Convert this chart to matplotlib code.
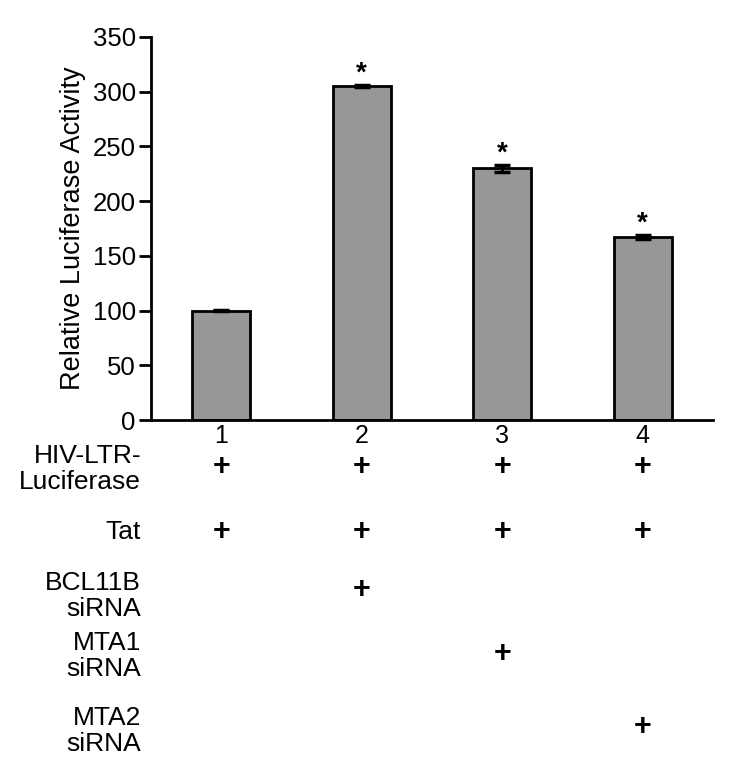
import matplotlib
matplotlib.use("Agg")
import matplotlib.pyplot as plt
import matplotlib.transforms as mtransforms

plt.rcParams['font.family'] = ['Liberation Sans', 'DejaVu Sans']

categories = ['1', '2', '3', '4']
values = [100, 305, 230, 167]
errors = [0.5, 1.0, 3.0, 2.0]
significant = [False, True, True, True]

row_labels = ['HIV-LTR-\nLuciferase', 'Tat', 'BCL11B\nsiRNA', 'MTA1\nsiRNA', 'MTA2\nsiRNA']
row_label_y_px = [469, 532, 596, 656, 731]
plus_y_px = [467, 532, 590, 654, 727]
conditions = [
    [1, 1, 1, 1],
    [1, 1, 1, 1],
    [0, 1, 0, 0],
    [0, 0, 1, 0],
    [0, 0, 0, 1],
]

W, H = 750, 778
fig = plt.figure(figsize=(W / 100, H / 100), dpi=100)
ax = fig.add_axes([151 / W, 1 - 420 / H, (713 - 151) / W, (420 - 37) / H])

x = list(range(len(categories)))
ax.bar(x, values, width=0.41, color='#979797', edgecolor='black', linewidth=2, zorder=2)
ax.errorbar(x, values, yerr=errors, fmt='none', ecolor='black', elinewidth=2,
            capsize=6, capthick=2.5, zorder=3)

for xi, v, e, s in zip(x, values, errors, significant):
    if s:
        ax.text(xi, v + e - 1, '*', ha='center', va='bottom', fontsize=20,
                fontweight='bold')

ax.set_xlim(-0.5, 3.5)
ax.set_ylim(0, 350)
ax.set_yticks([0, 50, 100, 150, 200, 250, 300, 350])
ax.set_xticks(x)
ax.set_xticklabels(categories, fontsize=18)
ax.tick_params(axis='y', labelsize=18.5, length=9, width=2, direction='out', pad=2)
ax.tick_params(axis='x', length=0, pad=3)
for side in ['top', 'right']:
    ax.spines[side].set_visible(False)
for side in ['left', 'bottom']:
    ax.spines[side].set_linewidth(2)
ax.set_ylabel('Relative Luciferase Activity', fontsize=19.5, labelpad=5)

trans = mtransforms.blended_transform_factory(ax.transData, fig.transFigure)
for lbl, ly, py, cond in zip(row_labels, row_label_y_px, plus_y_px, conditions):
    fig.text(141 / W, 1 - ly / H, lbl, ha='right', va='center', fontsize=19,
             linespacing=1.08)
    for xi, c in zip(x, cond):
        if c:
            ax.text(xi, 1 - py / H, '+', transform=trans, ha='center', va='center',
                    fontsize=22, fontweight='bold', clip_on=False)

fig.savefig('out.png', dpi=100)
